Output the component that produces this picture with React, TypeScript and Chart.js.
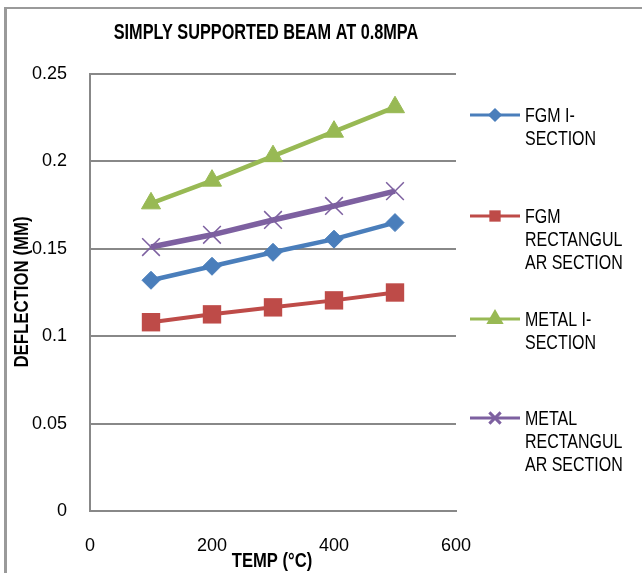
import React, { useEffect, useRef } from 'react';
import { Chart, registerables } from 'chart.js';
import { drawPoint } from 'chart.js/helpers';

Chart.register(...registerables);

const temps = [100, 200, 300, 400, 500];
const fgmI = [0.132, 0.14, 0.148, 0.1555, 0.165];
const fgmRect = [0.108, 0.1125, 0.1165, 0.1205, 0.125];
const metalI = [0.176, 0.189, 0.203, 0.217, 0.231];
const metalRect = [0.151, 0.158, 0.1665, 0.1745, 0.183];
const yTickLabels = ['0', '0.05', '0.1', '0.15', '0.2', '0.25'];
const xTickLabels = ['0', '200', '400', '600'];
const seriesNames = [
  ['FGM I-', 'SECTION'],
  ['FGM', 'RECTANGUL', 'AR SECTION'],
  ['METAL I-', 'SECTION'],
  ['METAL', 'RECTANGUL', 'AR SECTION'],
];
const chartTitle = 'SIMPLY SUPPORTED BEAM AT 0.8MPA';
const xTitle = 'TEMP (°C)';
const yTitle = 'DEFLECTION (MM)';

const FONT = "'Liberation Sans', Arial, sans-serif";
const GRID = '#888888';
const legendY = [115, 216, 319, 418];
const legendMarkerR = [5, 8, 7, 8];

function condensedText(ctx: CanvasRenderingContext2D, text: string, x: number, y: number, sx: number, align: CanvasTextAlign) {
  ctx.save();
  ctx.translate(x, y);
  ctx.scale(sx, 1);
  ctx.textAlign = align;
  ctx.fillText(text, 0, 0);
  ctx.restore();
}

const textPlugin = {
  id: 'customText',
  afterDraw(chart: any) {
    const ctx = chart.ctx as CanvasRenderingContext2D;
    ctx.save();
    ctx.fillStyle = '#000';
    ctx.textBaseline = 'middle';
    ctx.font = `bold 22px ${FONT}`;
    condensedText(ctx, chartTitle, 266, 33, 0.74, 'center');
    ctx.font = `bold 20px ${FONT}`;
    condensedText(ctx, xTitle, 272, 561, 0.83, 'center');
    ctx.save();
    ctx.translate(22, 292);
    ctx.rotate(-Math.PI / 2);
    condensedText(ctx, yTitle, 0, 0, 0.84, 'center');
    ctx.restore();

    ctx.font = `20px ${FONT}`;
    chart.data.datasets.forEach((ds: any, i: number) => {
      const y = legendY[i];
      ctx.strokeStyle = ds.borderColor;
      ctx.lineWidth = 3;
      ctx.beginPath();
      ctx.moveTo(470, y);
      ctx.lineTo(520, y);
      ctx.stroke();
      ctx.fillStyle = ds.pointBackgroundColor;
      ctx.strokeStyle = ds.pointBorderColor;
      drawPoint(ctx, {
        pointStyle: ds.pointStyle,
        rotation: 0,
        radius: legendMarkerR[i],
        borderWidth: ds.pointBorderWidth,
      } as any, 495, y);
      ctx.fillStyle = '#000';
      seriesNames[i].forEach((line, j) => {
        condensedText(ctx, line, 525, y + 1 + j * 23.3, 0.8, 'left');
      });
    });
    ctx.restore();
  },
};

function mkDs(label: string, data: number[], color: string, style: string, r: number, lw: number, bw: number) {
  return {
    label,
    data: temps.map((t, i) => ({ x: t, y: data[i] })),
    borderColor: color,
    backgroundColor: color,
    pointBackgroundColor: color,
    pointBorderColor: color,
    pointStyle: style,
    pointRadius: r,
    pointBorderWidth: bw,
    borderWidth: lw,
    tension: 0,
  };
}

export default function App() {
  const ref = useRef<HTMLCanvasElement>(null);
  useEffect(() => {
    const chart = new Chart(ref.current!, {
      type: 'line',
      data: {
        datasets: [
          mkDs('FGM I-SECTION', fgmI, '#4A7EBB', 'rectRot', 9, 4.5, 1),
          mkDs('FGM RECTANGULAR SECTION', fgmRect, '#BE4B48', 'rect', 13, 4, 0),
          mkDs('METAL I-SECTION', metalI, '#98B954', 'triangle', 11, 4.5, 1),
          mkDs('METAL RECTANGULAR SECTION', metalRect, '#7D60A0', 'crossRot', 12.5, 5.5, 1.5),
        ] as any,
      },
      options: {
        responsive: false,
        maintainAspectRatio: false,
        animation: false,
        layout: { padding: { top: 74, right: 186, bottom: 0, left: 0 } },
        plugins: {
          legend: { display: false },
          title: { display: false },
          tooltip: { enabled: false },
        },
        scales: {
          x: {
            type: 'linear',
            min: 0,
            max: 600,
            ticks: {
              stepSize: 200,
              padding: 24,
              color: '#000',
              font: { family: FONT, size: 18 },
              maxRotation: 0,
              callback: (_v: any, i: number) => xTickLabels[i],
            },
            grid: { color: 'rgba(0,0,0,0)', drawTicks: false },
            border: { display: true, color: GRID, width: 2 },
            afterFit: (s: any) => { s.height = 62; },
          },
          y: {
            min: 0,
            max: 0.25,
            ticks: {
              stepSize: 0.05,
              padding: 23,
              color: '#000',
              font: { family: FONT, size: 18 },
              callback: (_v: any, i: number) => yTickLabels[i],
            },
            grid: { color: GRID, lineWidth: 2, drawTicks: false },
            border: { display: true, color: GRID, width: 2 },
            afterFit: (s: any) => { s.width = 90; },
          },
        },
      } as any,
      plugins: [textPlugin],
    });
    return () => chart.destroy();
  }, []);
  return (
    <div style={{ position: 'absolute', left: 0, top: 0, width: 642, height: 573, background: '#fff', overflow: 'hidden' }}>
      <div style={{ position: 'absolute', left: 4, top: 7, right: 0, bottom: 0, borderLeft: '3px solid #9a9a9a', borderTop: '2px solid #9a9a9a' }} />
      <canvas ref={ref} width={642} height={573} style={{ position: 'absolute', left: 0, top: 0 }} />
    </div>
  );
}
